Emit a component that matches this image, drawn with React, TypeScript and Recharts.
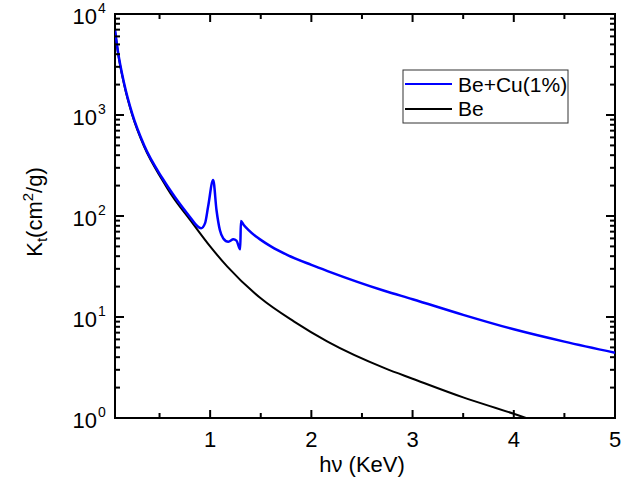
import React from 'react';
import { LineChart, Line, XAxis, YAxis, ReferenceArea } from 'recharts';

// photon energy (KeV) and total attenuation coefficient (cm^2/g)
const BE_X = [0.06, 0.09, 0.15, 0.23, 0.35, 0.53, 0.63, 0.8, 1.0, 1.17, 1.5, 1.83, 2.16, 2.73, 3.0, 3.5, 4.0, 4.12];
const BE_K = [6800, 4100, 2000, 1000, 480, 225, 155, 92, 50, 31.5, 15.3, 9.0, 5.7, 3.1, 2.45, 1.6, 1.1, 1.0];

const BECU_X = [0.06, 0.09, 0.15, 0.23, 0.35, 0.53, 0.65, 0.81, 0.87, 0.91, 0.95, 0.98, 1.03, 1.063, 1.096, 1.13, 1.18, 1.23, 1.26, 1.297, 1.304, 1.33, 1.38, 1.45, 1.5, 1.6, 1.765, 2.0, 2.16, 2.72, 3.0, 3.5, 4.0, 4.5, 5.0];
const BECU_K = [7000, 4200, 2060, 1030, 495, 235, 155, 95, 80, 75.5, 85, 124, 227, 114, 72.6, 60, 55.6, 58.8, 57, 46.8, 89, 82, 72.6, 63, 58, 50, 41, 32.8, 28.5, 18.2, 15.0, 10.5, 7.55, 5.7, 4.43];

const SERIES = ['Be+Cu(1%)', 'Be'];
const COLORS = ['#0000ff', '#000000'];

const X_DOMAIN = [0.06, 5];
const X_TICKS = [0.5, 1, 1.5, 2, 2.5, 3, 3.5, 4, 4.5, 5];
const Y_DECADES = [1, 10, 100, 1000, 10000];
const Y_MINOR = [2, 3, 4, 5, 6, 7, 8, 9];

const beData = BE_X.map((x, i) => ({ x, k: BE_K[i] }));
const beCuData = BECU_X.map((x, i) => ({ x, k: BECU_K[i] }));
const yTicks = Y_DECADES.flatMap((d, i) =>
  i < Y_DECADES.length - 1 ? [d, ...Y_MINOR.map(m => d * m)] : [d]
);

const FONT = '"Liberation Sans", Arial, sans-serif';
const W = 625;
const H = 484;
const LEFT = 115;
const RIGHT = 615;
const TOP = 14;
const BOTTOM = 418;

const XTick = (props: any) => {
  const { x, payload } = props;
  const v = payload.value;
  const major = Number.isInteger(v);
  const len = major ? 8 : 5;
  return (
    <g>
      <line x1={x} y1={BOTTOM} x2={x} y2={BOTTOM - len} stroke="#000" strokeWidth={2} />
      <line x1={x} y1={TOP} x2={x} y2={TOP + len} stroke="#000" strokeWidth={2} />
      {major && (
        <text x={x} y={BOTTOM + 29} textAnchor="middle" fontSize={22} fontFamily={FONT} fill="#000">
          {v}
        </text>
      )}
    </g>
  );
};

const YTick = (props: any) => {
  const { y, payload } = props;
  const v = payload.value;
  const exp = Math.log10(v);
  const major = Math.abs(exp - Math.round(exp)) < 1e-9;
  const len = major ? 9 : 5;
  return (
    <g>
      <line x1={LEFT} y1={y} x2={LEFT + len} y2={y} stroke="#000" strokeWidth={2} />
      <line x1={RIGHT} y1={y} x2={RIGHT - len} y2={y} stroke="#000" strokeWidth={2} />
      {major && (
        <g fontFamily={FONT} fill="#000">
          <text x={97} y={y + 10} textAnchor="end" fontSize={22}>10</text>
          <text x={98} y={y - 1} textAnchor="start" fontSize={14}>{Math.round(exp)}</text>
        </g>
      )}
    </g>
  );
};

export default function App() {
  return (
    <div style={{ position: 'absolute', left: 0, top: 0, width: W, height: H, background: '#fff' }}>
      <LineChart width={W} height={H} margin={{ top: TOP, right: W - RIGHT, left: 0, bottom: 0 }}>
        <XAxis
          type="number"
          dataKey="x"
          domain={X_DOMAIN}
          allowDataOverflow
          ticks={X_TICKS}
          interval={0}
          tick={<XTick />}
          tickLine={false}
          axisLine={false}
          height={H - BOTTOM}
        />
        <YAxis
          type="number"
          scale="log"
          domain={[1, 10000]}
          allowDataOverflow
          ticks={yTicks}
          interval={0}
          tick={<YTick />}
          tickLine={false}
          axisLine={false}
          width={LEFT}
        />
        <Line
          data={beData}
          dataKey="k"
          name={SERIES[1]}
          type="monotone"
          stroke={COLORS[1]}
          strokeWidth={2}
          dot={false}
          isAnimationActive={false}
        />
        <Line
          data={beCuData}
          dataKey="k"
          name={SERIES[0]}
          type="monotone"
          stroke={COLORS[0]}
          strokeWidth={2.5}
          dot={false}
          isAnimationActive={false}
        />
        <ReferenceArea
          x1={X_DOMAIN[0]}
          x2={X_DOMAIN[1]}
          y1={1}
          y2={10000}
          fill="none"
          stroke="#000"
          strokeWidth={2}
          ifOverflow="visible"
        />
      </LineChart>
      <svg
        width={W}
        height={H}
        style={{ position: 'absolute', left: 0, top: 0, pointerEvents: 'none' }}
        fontFamily={FONT}
      >
        {/* legend */}
        <rect x={403} y={70} width={165} height={53} fill="#fff" stroke="#333" strokeWidth={1} />
        {SERIES.map((s, i) => (
          <g key={s}>
            <line x1={405} y1={84 + i * 25} x2={452} y2={84 + i * 25} stroke={COLORS[i]} strokeWidth={2} />
            <text x={458} y={92 + i * 24} fontSize={21} fill="#000">{s}</text>
          </g>
        ))}
        {/* axis titles */}
        <text x={362} y={472} textAnchor="middle" fontSize={22} fill="#000">hν (KeV)</text>
        <text x={42} y={212} transform="rotate(-90, 42, 212)" textAnchor="middle" fontSize={22} fill="#000">
          K<tspan dy={5} fontSize={15}>t</tspan>
          <tspan dy={-5}>(cm</tspan>
          <tspan dy={-9} fontSize={15}>2</tspan>
          <tspan dy={9}>/g)</tspan>
        </text>
      </svg>
    </div>
  );
}
